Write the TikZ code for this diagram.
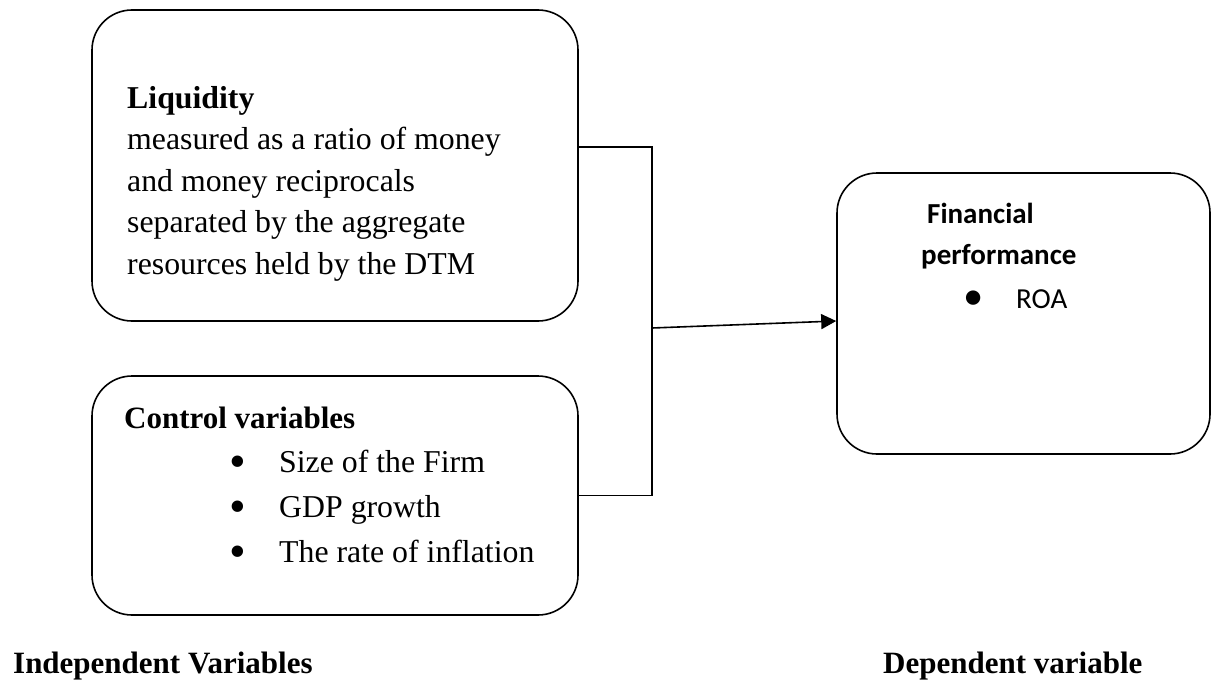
\documentclass[tikz,border=0pt]{standalone}
\usepackage{fontspec}
\setmainfont{Liberation Serif}
\newfontfamily\calibrifont{Carlito}
\usetikzlibrary{
    arrows.meta,
    positioning,
    calc
}
\newcommand{\listbullet}{%
    \makebox[11pt][c]{\raisebox{-5.5pt}{\scalebox{1.5}{\textbullet}}}\hspace{35.5pt}}

\begin{document}
\begin{tikzpicture}[
        x=1pt, y=-1pt,
        every node/.style={
            inner sep=0pt,
            font=\fontsize{31.8pt}{41.5pt}\selectfont
        },
        varbox/.style={
            rectangle,
            rounded corners=40pt,
            draw=black,
            line width=1.6pt,
            minimum width=486pt
        },
        body/.style={
            anchor=base west,
            align=left
        },
        heading/.style={
            anchor=base west,
            font=\fontsize{31pt}{41.5pt}\selectfont\bfseries
        },
        link/.style={
            line width=1.6pt,
            draw=black
        },
        arrow/.style={
            -{Triangle[length=15pt,width=15pt]},
            line width=1.6pt,
            draw=black
        }
    ]

    \useasboundingbox (0,0) rectangle (1214,696);

    % independent variables (base = last line)
    \node[varbox, minimum height=311pt] (liq) at (335,165.5) {};
    \node[body] (liqtext) at (127,274)
        {\textbf{Liquidity}\\
         measured as a ratio of money\\
         and money reciprocals\\
         separated by the aggregate\\
         resources held by the DTM};

    \node[varbox, minimum height=239pt] (ctrl) at (335,495.5) {};
    \node[heading] (ctrlhead) at (124,428) {Control variables};
    \node[body, font=\fontsize{31.8pt}{45pt}\selectfont] (ctrllist) at (232.5,562)
        {\listbullet Size of the Firm\\
         \listbullet GDP growth\\
         \listbullet The rate of inflation};

    % dependent variable
    \node[varbox, minimum width=373pt, minimum height=281pt] (perf) at (1023.5,313.5) {};
    \node[body, font=\fontsize{29pt}{41pt}\selectfont\calibrifont\bfseries] (perfhead) at (921,264)
        {\hspace*{6pt}Financial\\performance};
    \node[font=\fontsize{29pt}{34pt}\selectfont\calibrifont] (roabullet) at (974,300)
        {\scalebox{1.4}{\textbullet}};
    \node[body, font=\fontsize{29pt}{34pt}\selectfont\calibrifont] (roa) at (1016,308) {ROA};

    % connectors
    \coordinate (join) at (652,328);
    \draw[link] ([yshift=18.5pt]liq.east) -| (join) |- (ctrl.east);
    \draw[arrow] (join) -- ([yshift=-7.5pt]perf.west);

    % captions
    \node[heading] (indep) at (13,673) {Independent Variables};
    \node[heading] (dep) at (883,673) {Dependent variable};

\end{tikzpicture}
\end{document}
